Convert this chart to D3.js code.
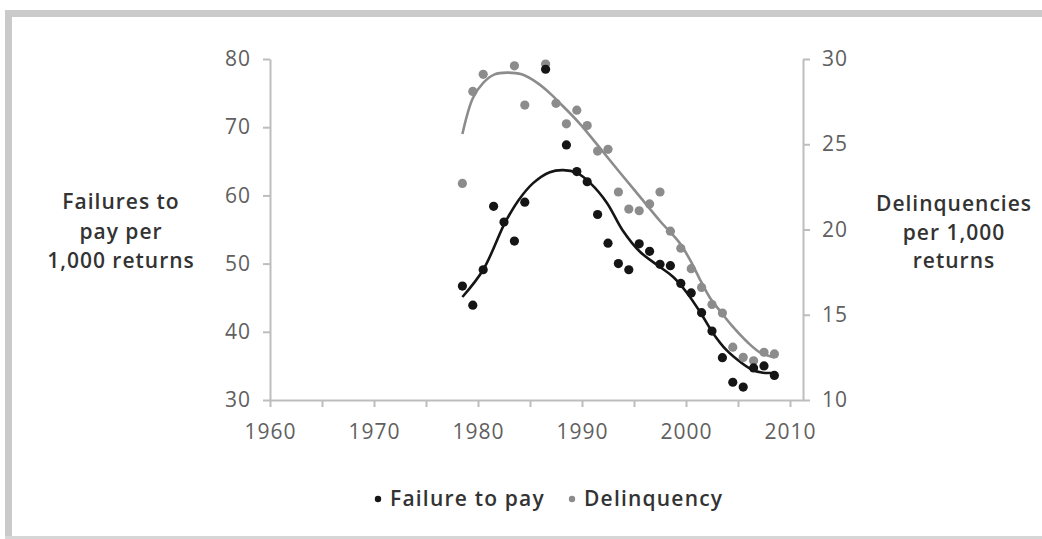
<!DOCTYPE html>
<html>
<head>
<meta charset="utf-8">
<script src="https://cdn.jsdelivr.net/npm/d3@7/dist/d3.min.js"></script>
<style>
  html, body { margin: 0; padding: 0; background: #fff; }
  svg { display: block; }
  text { font-family: "Open Sans", "DejaVu Sans", sans-serif; }
</style>
</head>
<body>
<svg id="chart" width="1042" height="539"></svg>
<script>
// Annual observations, 1978–2008 (null = no observation that year)
const years = d3.range(1978, 2009);

// Failures to pay per 1,000 returns (left axis)
const failureToPay = [
  46.7, 43.9, 49.1, 58.4, 56.1, 53.3, 59.0, null, 78.5, null,
  67.4, 63.5, 62.0, 57.2, 53.0, 50.0, 49.1, 52.9, 51.8, 49.9,
  49.7, 47.1, 45.7, 42.8, 40.1, 36.2, 32.6, 31.9, 34.7, 35.0,
  33.6
];

// Delinquencies per 1,000 returns (right axis)
const delinquency = [
  22.7, 28.1, 29.1, null, null, 29.6, 27.3, null, 29.7, 27.4,
  26.2, 27.0, 26.1, 24.6, 24.7, 22.2, 21.2, 21.1, 21.5, 22.2,
  19.9, 18.9, 17.7, 16.6, 15.6, 15.1, 13.1, 12.5, 12.3, 12.8,
  12.7
];

// Smoothed trend lines
const failureTrendYears = [1978.5, 1980.5, 1982.6, 1983.9, 1985.3, 1986.9, 1988.2, 1989.5, 1990.8, 1992.4, 1993.9, 1995.6, 1997.5, 1998.8, 2000.1, 2001.4, 2002.6, 2003.9, 2005.2, 2006.4, 2007.4, 2008.5];
const failureTrend      = [45.1,   49.1,   56.0,   59.3,   61.8,   63.4,   63.7,   63.3,   61.8,   58.9,   54.9,   51.7,   49.5,   48.0,   45.7,   42.8,   39.8,   37.3,   35.6,   34.4,   34.0,   34.0];

const delinqTrendYears = [1978.5, 1979.5, 1980.5, 1981.6, 1982.8, 1984.2, 1985.7, 1986.9, 1987.9, 1989.8, 1991.7, 1993.7, 1995.6, 1997.5, 1999.4, 2000.4, 2001.4, 2002.3, 2003.3, 2004.5, 2005.9, 2007.1, 2008.5];
const delinqTrend      = [25.6,   27.7,   28.6,   29.1,   29.2,   29.1,   28.6,   28.0,   27.4,   26.2,   24.8,   23.3,   21.9,   20.5,   19.2,   18.2,   17.0,   16.0,   15.2,   14.3,   13.4,   12.8,   12.5];

// Axis ticks
const xTicks = d3.range(1960, 2011, 5);
const xLabels = [1960, 1970, 1980, 1990, 2000, 2010];
const leftTicks = [30, 40, 50, 60, 70, 80];
const rightTicks = [10, 15, 20, 25, 30];

const legendItems = ["Failure to pay", "Delinquency"];

const svg = d3.select("#chart");
const axisGray = "#bdbdbd";
const labelGray = "#606060";
const titleColor = "#333";
const dark = "#151515";
const mid = "#8c8c8c";

// Panel frame
svg.append("rect").attr("x", 5).attr("y", 10).attr("width", 1037).attr("height", 7).attr("fill", "#cacaca");
svg.append("rect").attr("x", 5).attr("y", 10).attr("width", 7).attr("height", 529).attr("fill", "#cacaca");
svg.append("rect").attr("x", 5).attr("y", 536).attr("width", 1037).attr("height", 3).attr("fill", "#d6d6d6");

// Scales: points sit at mid-year
const x = d3.scaleLinear().domain([1960, 2011.25]).range([270, 803]);
const yL = d3.scaleLinear().domain([30, 80]).range([400, 59]);
const yR = d3.scaleLinear().domain([10, 30]).range([400, 59]);
const midYear = y => y + 0.5;

function styleAxis(g) {
  g.select(".domain").attr("stroke", axisGray).attr("stroke-width", 2);
  g.selectAll(".tick line").attr("stroke", axisGray).attr("stroke-width", 2);
  g.selectAll(".tick text")
    .attr("fill", labelGray)
    .style("font-size", "21px")
    .style("font-family", "'Open Sans', sans-serif")
    .style("letter-spacing", "1px");
}

// Bottom axis: ticks every 5 years, labels on decades
svg.append("g")
  .attr("transform", "translate(0,400)")
  .call(d3.axisBottom(x).tickValues(xTicks).tickSize(7).tickSizeOuter(0).tickPadding(17)
    .tickFormat(d => xLabels.includes(d) ? String(d) : ""))
  .call(styleAxis);

// Left axis
svg.append("g")
  .attr("transform", "translate(270,0)")
  .call(d3.axisLeft(yL).tickValues(leftTicks).tickSize(7).tickSizeOuter(0).tickPadding(12))
  .call(styleAxis);

// Right axis
svg.append("g")
  .attr("transform", "translate(803,0)")
  .call(d3.axisRight(yR).tickValues(rightTicks).tickSize(7).tickSizeOuter(0).tickPadding(12))
  .call(styleAxis);

// Axis titles
function title(lines, cx, ys) {
  const t = svg.append("text")
    .attr("text-anchor", "middle")
    .attr("fill", titleColor)
    .style("font-size", "21px")
    .style("font-weight", 600)
    .style("letter-spacing", "1px");
  lines.forEach((s, i) => t.append("tspan").attr("x", cx).attr("y", ys[i]).text(s));
}
title(["Failures to", "pay per", "1,000 returns"], 121, [209, 239, 268]);
title(["Delinquencies", "per 1,000", "returns"], 954, [211, 240, 268]);

// Trend lines
const line = d3.line().curve(d3.curveCatmullRom.alpha(0.5));
svg.append("path")
  .attr("d", line(delinqTrendYears.map((yr, i) => [x(yr), yR(delinqTrend[i])])))
  .attr("fill", "none").attr("stroke", mid).attr("stroke-width", 2.6);
svg.append("path")
  .attr("d", line(failureTrendYears.map((yr, i) => [x(yr), yL(failureTrend[i])])))
  .attr("fill", "none").attr("stroke", dark).attr("stroke-width", 2.6);

// Scatter points
svg.append("g").selectAll("circle")
  .data(years.map((yr, i) => ({ yr, v: delinquency[i] })).filter(d => d.v != null))
  .join("circle")
  .attr("cx", d => x(midYear(d.yr))).attr("cy", d => yR(d.v))
  .attr("r", 4.6).attr("fill", mid);
svg.append("g").selectAll("circle")
  .data(years.map((yr, i) => ({ yr, v: failureToPay[i] })).filter(d => d.v != null))
  .join("circle")
  .attr("cx", d => x(midYear(d.yr))).attr("cy", d => yL(d.v))
  .attr("r", 4.6).attr("fill", dark);

// Legend
const legend = svg.append("g");
const legendX = [378, 572];
legendItems.forEach((name, i) => {
  legend.append("circle").attr("cx", legendX[i]).attr("cy", 499).attr("r", 3.2)
    .attr("fill", i === 0 ? dark : mid);
  legend.append("text").attr("x", legendX[i] + 12).attr("y", 506)
    .attr("fill", titleColor).style("font-size", "21px").style("font-weight", 600)
    .style("letter-spacing", "1.2px")
    .text(name);
});
</script>
</body>
</html>
